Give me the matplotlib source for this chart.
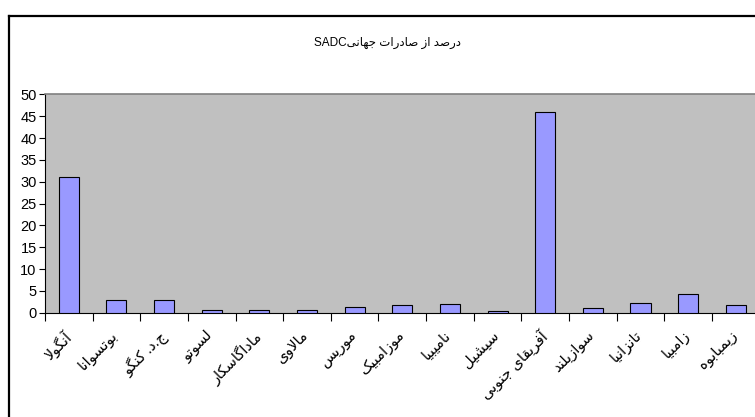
import matplotlib
matplotlib.use("Agg")
import matplotlib.pyplot as plt
import matplotlib.transforms as mtransforms
from matplotlib.lines import Line2D
import numpy as np

plt.rcParams['font.family'] = ['Liberation Sans', 'DejaVu Sans']

title_fa = 'درصد از صادرات جهانی'
title_latin = 'SADC'
countries = ['آنگولا', 'بوتسوانا', 'ج.د. کنگو', 'لسوتو', 'ماداگاسکار', 'مالاوی', 'موریس',
             'موزامبیک', 'نامیبیا', 'سیشیل', 'آفریقای جنوبی', 'سوازیلند', 'تانزانیا',
             'زامبیا', 'زیمبابوه']
values = [31.0, 2.9, 2.9, 0.7, 0.7, 0.7, 1.3, 1.7, 2.0, 0.3, 46.1, 1.0, 2.3, 4.3, 1.7]
yticks = [0, 5, 10, 15, 20, 25, 30, 35, 40, 45, 50]

# presentation forms: isolated, final, initial, medial
FORMS = {
    'ا': ('\uFE8D', '\uFE8E', None, None),
    'آ': ('\uFE81', '\uFE82', None, None),
    'ب': ('\uFE8F', '\uFE90', '\uFE91', '\uFE92'),
    'پ': ('\uFB56', '\uFB57', '\uFB58', '\uFB59'),
    'ت': ('\uFE95', '\uFE96', '\uFE97', '\uFE98'),
    'ج': ('\uFE9D', '\uFE9E', '\uFE9F', '\uFEA0'),
    'چ': ('\uFB7A', '\uFB7B', '\uFB7C', '\uFB7D'),
    'د': ('\uFEA9', '\uFEAA', None, None),
    'ر': ('\uFEAD', '\uFEAE', None, None),
    'ز': ('\uFEAF', '\uFEB0', None, None),
    'ژ': ('\uFB8A', '\uFB8B', None, None),
    'س': ('\uFEB1', '\uFEB2', '\uFEB3', '\uFEB4'),
    'ش': ('\uFEB5', '\uFEB6', '\uFEB7', '\uFEB8'),
    'ص': ('\uFEB9', '\uFEBA', '\uFEBB', '\uFEBC'),
    'ف': ('\uFED1', '\uFED2', '\uFED3', '\uFED4'),
    'ق': ('\uFED5', '\uFED6', '\uFED7', '\uFED8'),
    'ک': ('\uFB8E', '\uFB8F', '\uFB90', '\uFB91'),
    'گ': ('\uFB92', '\uFB93', '\uFB94', '\uFB95'),
    'ل': ('\uFEDD', '\uFEDE', '\uFEDF', '\uFEE0'),
    'م': ('\uFEE1', '\uFEE2', '\uFEE3', '\uFEE4'),
    'ن': ('\uFEE5', '\uFEE6', '\uFEE7', '\uFEE8'),
    'ه': ('\uFEE9', '\uFEEA', '\uFEEB', '\uFEEC'),
    'و': ('\uFEED', '\uFEEE', None, None),
    'ی': ('\uFBFC', '\uFBFD', '\uFBFE', '\uFBFF'),
}
LAMALEF = {'ا': ('\uFEFB', '\uFEFC'), 'آ': ('\uFEF5', '\uFEF6')}


def joins_left(c):
    return c in FORMS and FORMS[c][2] is not None


def shape(text):
    # join letters and put them in visual (left-to-right) order
    out = []
    i = 0
    n = len(text)
    while i < n:
        c = text[i]
        prev = text[i - 1] if i > 0 else None
        nxt = text[i + 1] if i + 1 < n else None
        if c not in FORMS:
            out.append(c)
            i += 1
            continue
        jp = joins_left(prev) if prev else False
        if c == 'ل' and nxt in LAMALEF:
            out.append(LAMALEF[nxt][1 if jp else 0])
            i += 2
            continue
        jn = joins_left(c) and nxt in FORMS
        iso, fin, ini, med = FORMS[c]
        if jp and jn:
            out.append(med)
        elif jp:
            out.append(fin)
        elif jn:
            out.append(ini)
        else:
            out.append(iso)
        i += 1
    return ''.join(out[::-1])


fig = plt.figure(figsize=(7.55, 4.17), dpi=100)
ax = fig.add_axes([45 / 755, 104.3 / 417, 714.6 / 755, 218.2 / 417])

x = np.arange(len(countries))
ax.bar(x, values, width=0.42, color='#9999FF', edgecolor='black', linewidth=0.8, zorder=3)

ax.set_facecolor('#C0C0C0')
ax.set_xlim(-0.5, len(countries) - 0.5)
ax.set_ylim(0, 50)
ax.set_yticks(yticks)
ax.set_yticklabels([str(v) for v in yticks], fontsize=10.5)
ax.tick_params(axis='y', direction='out', length=4, width=0.8, pad=2)

ax.set_xticks(x)
ax.set_xticklabels([shape(c) for c in countries], rotation=45, ha='right',
                   rotation_mode='anchor', fontsize=10.5)
ax.tick_params(axis='x', which='major', length=0, pad=11)
ax.set_xticks(np.arange(len(countries) + 1) - 0.5, minor=True)
ax.tick_params(axis='x', which='minor', direction='out', length=6, width=0.8)

# nudge the slanted labels a little to the left
shift = mtransforms.ScaledTranslation(-6 / 100, 0, fig.dpi_scale_trans)
for lbl in ax.get_xticklabels():
    lbl.set_transform(lbl.get_transform() + shift)

ax.spines['top'].set_color('#808080')
ax.spines['top'].set_linewidth(1.2)
ax.spines['right'].set_visible(False)
ax.spines['left'].set_linewidth(0.8)
ax.spines['bottom'].set_linewidth(0.8)

fig.text(388 / 755, 1 - 43 / 417, title_latin + shape(title_fa), ha='center', va='center', fontsize=8.5)

# outer chart frame
fx = 8.5 / 755
fy = 1 - 15.5 / 417
fig.add_artist(Line2D([fx, fx], [0, fy], transform=fig.transFigure, color='black', linewidth=1.6))
fig.add_artist(Line2D([fx, 1], [fy, fy], transform=fig.transFigure, color='black', linewidth=1.6))

plt.savefig('out.png', dpi=100)
